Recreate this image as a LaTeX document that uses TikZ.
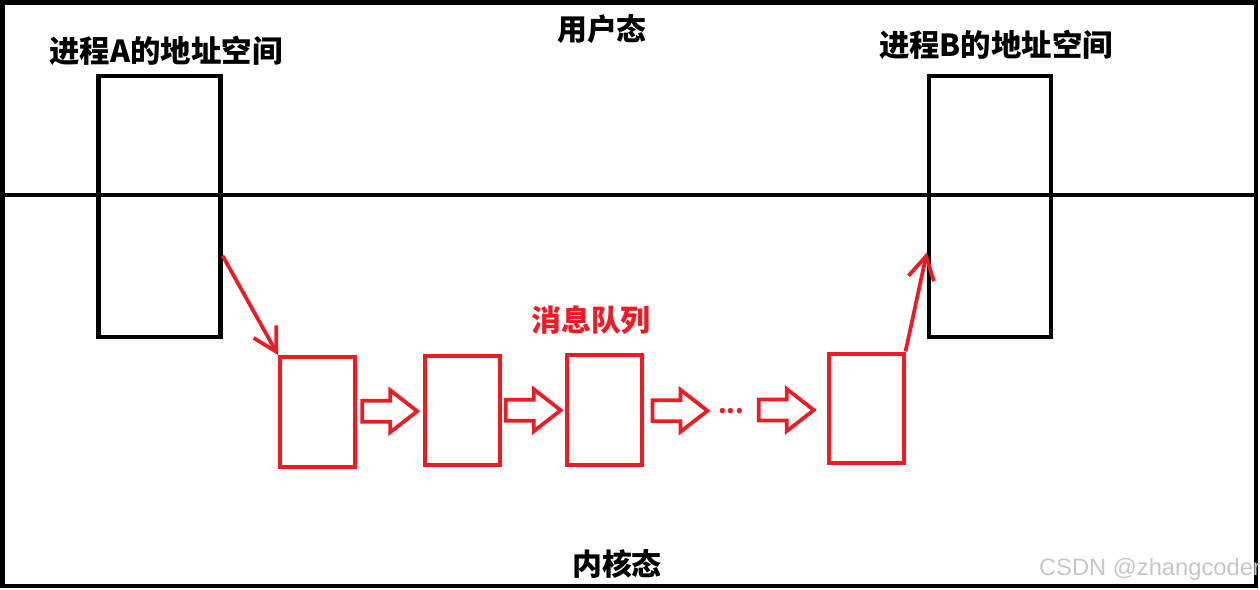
\documentclass[tikz,border=0pt]{standalone}
\usepackage{fontspec}
\newfontfamily\cjk{Noto Sans CJK SC}
\newfontfamily\markfont{Liberation Sans}
\usetikzlibrary{arrows.meta}
\definecolor{qred}{RGB}{237,28,36}

\tikzset{
    blockarrow/.pic={
        \draw[qred, line width=0.075cm, line join=miter]
            (-27.5,-10.5) -- (0.5,-10.5) -- (0.5,-21) -- (27.5,0)
            -- (0.5,21) -- (0.5,10.5) -- (-27.5,10.5) -- cycle;
    }
}

\begin{document}
\begin{tikzpicture}[x=0.02cm, y=-0.02cm, line width=0.085cm,
    proc/.style={draw, minimum width=2.44cm, minimum height=5.22cm, inner sep=0pt},
    msgbox/.style={draw=qred, line width=0.08cm, minimum width=1.5cm, minimum height=2.2cm, inner sep=0pt},
    statetext/.style={font=\cjk\bfseries\fontsize{17}{17}\selectfont, inner sep=0pt},
    spacetext/.style={font=\cjk\bfseries\fontsize{17.3}{17.3}\selectfont, inner sep=0pt},
    >={Straight Barb[length=0.46cm, width=0.52cm]}]
    \useasboundingbox (0,0) rectangle (1260,590);

    % Frame and the user / kernel border
    \draw (2.5,2.5) rectangle (1256,586);
    \draw (2.5,195) -- (1256,195);
    \node[statetext] (user) at (602,29) {用户态};
    \node[statetext] (kernel) at (617,564) {内核态};

    % Address spaces
    \node[proc] (procA) at (159.5,206.5) {};
    \node[proc] (procB) at (990,206.5) {};
    \node[spacetext] (nameA) at (166,51) {进程A的地址空间};
    \node[spacetext] (nameB) at (996,45) {进程B的地址空间};

    % Message queue
    \node[statetext, text=qred] (queue) at (591,320) {消息队列};
    \node[msgbox] (q1) at (317.5,412) {};
    \node[msgbox] (q2) at (462,410.5) {};
    \node[msgbox] (q3) at (604.5,410) {};
    \node[msgbox] (q4) at (866,408.5) {};
    \node[font=\cjk\bfseries\fontsize{14}{14}\selectfont, text=qred, inner sep=0pt, anchor=base] (dots) at (731,414) {...};
    \foreach \a/\b in {q1/q2, q2/q3, q3/dots, dots/q4}
        \path (\a.east) -- (\b.west) pic[pos=0.5] {blockarrow};

    % Send and receive
    \draw[->, qred, line width=0.075cm] (procA.-38) -- (q1.north west);
    \draw[->, qred, line width=0.075cm] (q4.north east) -- (procB.216);

    % Watermark
    \node[font=\markfont\fontsize{13.5}{13.5}\selectfont, text=gray!45, inner sep=0pt] (mark) at (1150,569) {CSDN @zhangcoder};
\end{tikzpicture}
\end{document}
